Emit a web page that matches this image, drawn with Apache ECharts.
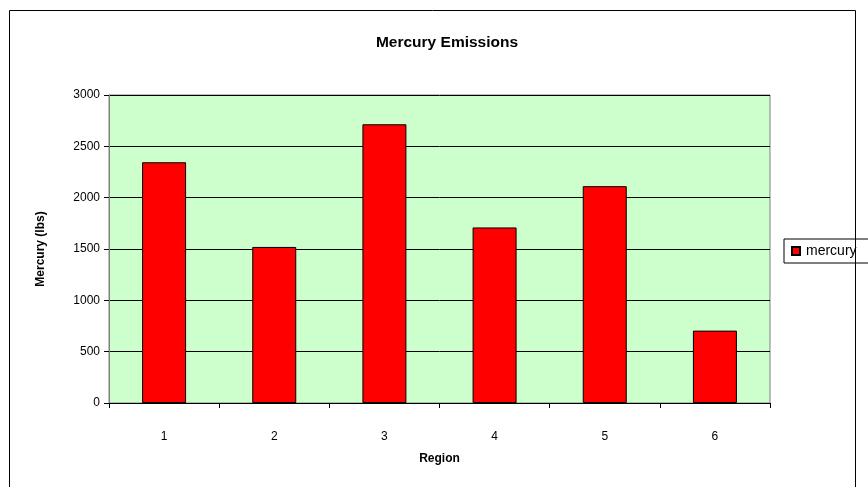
<!DOCTYPE html>
<html>
<head>
<meta charset="utf-8">
<script src="https://cdn.jsdelivr.net/npm/echarts@6/dist/echarts.min.js"></script>
<style>html,body{margin:0;padding:0;background:#fff}#c{width:868px;height:487px}</style>
</head>
<body>
<div id="c"></div>
<script>
const categories = ['1', '2', '3', '4', '5', '6'];
const mercury = [2345, 1520, 2715, 1710, 2112, 705];
const seriesName = 'mercury';
const titleText = 'Mercury Emissions';
const xName = 'Region';
const yName = 'Mercury (lbs)';

const chart = echarts.init(document.getElementById('c'), null, {renderer: 'canvas'});
const font = 'Arial, "Liberation Sans", sans-serif';
chart.setOption({
  animation: false,
  backgroundColor: '#ffffff',
  title: {
    text: titleText, left: 442, top: 30, textAlign: 'center',
    textStyle: {fontFamily: font, fontSize: 15.5, fontWeight: 'bold', color: '#000'}
  },
  graphic: [{
    type: 'rect', shape: {x: 9.5, y: 10.5, width: 846, height: 490},
    style: {fill: 'none', stroke: '#000', lineWidth: 1}, silent: true, z: -1
  }],
  legend: {
    data: [seriesName], left: 784, top: 239, orient: 'vertical',
    itemWidth: 8, itemHeight: 8, itemGap: 4, icon: 'rect',
    padding: [5, 20, 5, 7],
    borderColor: '#000', borderWidth: 1,
    textStyle: {fontFamily: font, fontSize: 14, color: '#000', padding: [0, 0, 0, 1]}
  },
  grid: {
    left: 109, top: 95, right: 98, bottom: 84,
    show: true, backgroundColor: '#CCFFCC', borderColor: '#808080', borderWidth: 1
  },
  xAxis: {
    type: 'category', data: categories,
    name: xName, nameLocation: 'middle', nameGap: 50,
    nameTextStyle: {fontFamily: font, fontSize: 12, fontWeight: 'bold', color: '#000'},
    axisLine: {lineStyle: {color: '#000', width: 1}},
    axisTick: {show: true, length: 5, alignWithLabel: false, lineStyle: {color: '#000'}},
    axisLabel: {fontFamily: font, fontSize: 12, color: '#000', margin: 28},
    splitLine: {show: false}
  },
  yAxis: {
    type: 'value', min: 0, max: 3000, interval: 500,
    name: yName, nameLocation: 'middle', nameGap: 62, nameRotate: 90,
    nameTextStyle: {fontFamily: font, fontSize: 12, fontWeight: 'bold', color: '#000'},
    axisLine: {show: true, lineStyle: {color: '#808080', width: 1}},
    axisTick: {show: true, length: 5, lineStyle: {color: '#000'}},
    axisLabel: {fontFamily: font, fontSize: 12, color: '#000', margin: 9, formatter: function (v) { return String(v); }},
    splitLine: {show: true, lineStyle: {color: '#000', width: 1}}
  },
  series: [{
    name: seriesName, type: 'bar', data: mercury, barWidth: 44,
    itemStyle: {color: '#FF0000', borderColor: '#000', borderWidth: 1}
  }]
});
</script>
</body>
</html>
